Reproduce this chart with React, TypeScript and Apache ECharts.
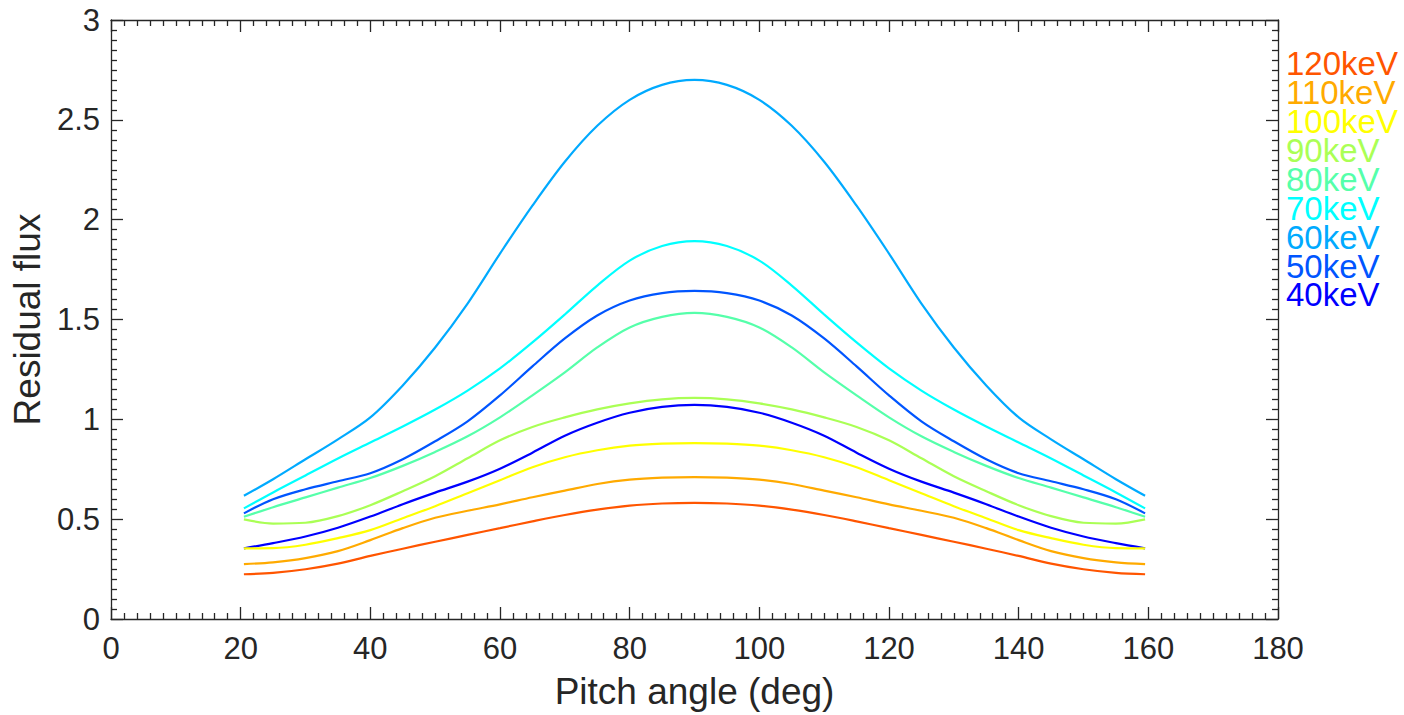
import React, { useEffect, useRef } from "react";
import * as echarts from "echarts";

// Pitch angles (deg)
const angles = [20.5, 25, 30, 35, 40, 45, 50, 55, 60, 65, 70, 75, 80, 85, 90, 95, 100, 105, 110, 115, 120, 125, 130, 135, 140, 145, 150, 155, 159.5];

// Residual flux per energy channel
const flux40 = [0.354, 0.38, 0.413, 0.457, 0.513, 0.575, 0.633, 0.688, 0.753, 0.833, 0.918, 0.983, 1.033, 1.062, 1.072, 1.062, 1.033, 0.983, 0.918, 0.833, 0.753, 0.688, 0.633, 0.575, 0.513, 0.457, 0.413, 0.38, 0.354];
const flux50 = [0.529, 0.6, 0.65, 0.69, 0.73, 0.8, 0.89, 0.99, 1.12, 1.265, 1.405, 1.52, 1.595, 1.632, 1.643, 1.632, 1.595, 1.52, 1.405, 1.265, 1.12, 0.99, 0.89, 0.8, 0.73, 0.69, 0.65, 0.6, 0.529];
const flux60 = [0.617, 0.7, 0.8, 0.9, 1.01, 1.17, 1.36, 1.58, 1.83, 2.07, 2.29, 2.47, 2.6, 2.675, 2.7, 2.675, 2.6, 2.47, 2.29, 2.07, 1.83, 1.58, 1.36, 1.17, 1.01, 0.9, 0.8, 0.7, 0.617];
const flux70 = [0.554, 0.634, 0.719, 0.804, 0.884, 0.964, 1.049, 1.144, 1.255, 1.385, 1.525, 1.67, 1.795, 1.868, 1.893, 1.868, 1.795, 1.67, 1.525, 1.385, 1.255, 1.144, 1.049, 0.964, 0.884, 0.804, 0.719, 0.634, 0.554];
const flux80 = [0.512, 0.56, 0.609, 0.658, 0.706, 0.767, 0.837, 0.915, 1.01, 1.12, 1.235, 1.36, 1.46, 1.513, 1.533, 1.513, 1.46, 1.36, 1.235, 1.12, 1.01, 0.915, 0.837, 0.767, 0.706, 0.658, 0.609, 0.56, 0.512];
const flux90 = [0.499, 0.478, 0.482, 0.515, 0.57, 0.64, 0.715, 0.805, 0.895, 0.962, 1.01, 1.05, 1.08, 1.1, 1.107, 1.1, 1.08, 1.05, 1.01, 0.962, 0.895, 0.805, 0.715, 0.64, 0.57, 0.515, 0.482, 0.478, 0.499];
const flux100 = [0.354, 0.355, 0.372, 0.405, 0.445, 0.505, 0.565, 0.63, 0.695, 0.76, 0.81, 0.845, 0.868, 0.878, 0.881, 0.878, 0.868, 0.845, 0.81, 0.76, 0.695, 0.63, 0.565, 0.505, 0.445, 0.405, 0.372, 0.355, 0.354];
const flux110 = [0.275, 0.284, 0.305, 0.34, 0.395, 0.455, 0.507, 0.542, 0.574, 0.61, 0.643, 0.676, 0.698, 0.708, 0.711, 0.708, 0.698, 0.676, 0.643, 0.61, 0.574, 0.542, 0.507, 0.455, 0.395, 0.34, 0.305, 0.284, 0.275];
const flux120 = [0.224, 0.231, 0.249, 0.277, 0.316, 0.352, 0.387, 0.421, 0.455, 0.489, 0.521, 0.548, 0.568, 0.5785, 0.582, 0.5785, 0.568, 0.548, 0.521, 0.489, 0.455, 0.421, 0.387, 0.352, 0.316, 0.277, 0.249, 0.231, 0.224];

const energyLabels = ["40keV", "50keV", "60keV", "70keV", "80keV", "90keV", "100keV", "110keV", "120keV"];
const energyColors = ["#0000ff", "#0055ff", "#00aaff", "#00ffff", "#55ffaa", "#aaff55", "#ffff00", "#ffaa00", "#ff5500"];
const fluxes = [flux40, flux50, flux60, flux70, flux80, flux90, flux100, flux110, flux120];

const xTicks = { min: 0, max: 180, interval: 20 };
const yTicks = { min: 0, max: 3, interval: 0.5 };

const FONT = "'Liberation Sans', Arial, Helvetica, sans-serif";
const AXIS_COLOR = "#262626";

export default function App() {
  const ref = useRef<HTMLDivElement>(null);

  useEffect(() => {
    const chart = echarts.init(ref.current!, null, { renderer: "svg" });

    const axisCommon = {
      axisLine: { show: true, onZero: false, lineStyle: { color: AXIS_COLOR, width: 1.3 } },
      axisTick: { show: true, inside: true, length: 12, lineStyle: { color: AXIS_COLOR, width: 1.3 } },
      minorTick: { show: true, splitNumber: 10, length: 6, lineStyle: { color: AXIS_COLOR, width: 1.3 } },
      splitLine: { show: false },
    };

    const legendTexts = energyLabels
      .map((label, i) => ({ label, color: energyColors[i] }))
      .reverse()
      .map((item, k) => ({
        type: "text",
        left: 1286,
        top: 47.2 + k * 28.9,
        style: {
          text: item.label,
          fill: item.color,
          font: `33px ${FONT}`,
          lineHeight: 28,
        },
      }));

    const option = {
      animation: false,
      backgroundColor: "#ffffff",
      grid: { left: 111, right: 126, top: 20, bottom: 96, containLabel: false },
      xAxis: [
        {
          type: "value",
          position: "bottom",
          ...xTicks,
          ...axisCommon,
          axisLabel: { show: true, color: AXIS_COLOR, fontSize: 31, fontFamily: FONT, margin: 14 },
          name: "Pitch angle (deg)",
          nameLocation: "middle",
          nameGap: 54,
          nameTextStyle: { color: AXIS_COLOR, fontSize: 37, fontFamily: FONT },
        },
        {
          type: "value",
          position: "top",
          ...xTicks,
          ...axisCommon,
          axisLabel: { show: false },
        },
      ],
      yAxis: [
        {
          type: "value",
          position: "left",
          ...yTicks,
          ...axisCommon,
          axisLabel: { show: true, color: AXIS_COLOR, fontSize: 31, fontFamily: FONT, margin: 11 },
          name: "Residual flux",
          nameLocation: "middle",
          nameRotate: 90,
          nameGap: 64,
          nameTextStyle: { color: AXIS_COLOR, fontSize: 37, fontFamily: FONT },
        },
        {
          type: "value",
          position: "right",
          ...yTicks,
          ...axisCommon,
          axisLabel: { show: false },
        },
      ],
      series: fluxes.map((vals, i) => ({
        type: "line",
        name: energyLabels[i],
        xAxisIndex: 0,
        yAxisIndex: 0,
        data: angles.map((a, j) => [a, vals[j]]),
        smooth: 0.33,
        showSymbol: false,
        symbol: "none",
        lineStyle: { color: energyColors[i], width: 2.2 },
        itemStyle: { color: energyColors[i] },
      })),
      graphic: legendTexts,
    };

    chart.setOption(option as any);
    return () => chart.dispose();
  }, []);

  return (
    <div
      ref={ref}
      style={{ position: "fixed", left: 0, top: 0, width: 1404, height: 715, background: "#ffffff" }}
    />
  );
}
